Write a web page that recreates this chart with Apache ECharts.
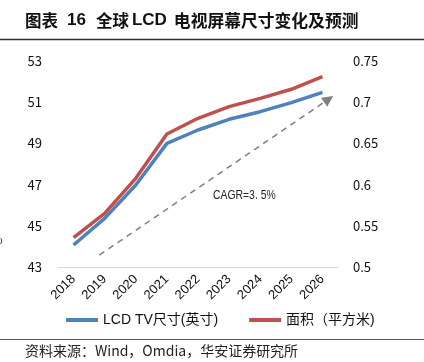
<!DOCTYPE html>
<html><head><meta charset="utf-8">
<script src="https://cdn.jsdelivr.net/npm/echarts@6/dist/echarts.min.js"></script>
<style>html,body{margin:0;padding:0;background:#fff}#c{width:424px;height:362px}</style>
</head><body><div id="c"></div>
<script>
var years = ['2018','2019','2020','2021','2022','2023','2024','2025','2026'];
var sizeInch = [44.07, 45.36, 46.98, 49.0, 49.65, 50.17, 50.54, 50.98, 51.48];
var areaM2 = [0.5356, 0.565, 0.6076, 0.6614, 0.6805, 0.6946, 0.7047, 0.7157, 0.731];
var leftTicks = [43, 45, 47, 49, 51, 53];
var rightTicks = [0.5, 0.55, 0.6, 0.65, 0.7, 0.75];
var trendArrow = [[0.83, 43.58], [8.2, 51.15]];
var cagrText = 'CAGR=3. 5%';

var chart = echarts.init(document.getElementById('c'));
var F = '"Noto Sans CJK SC","Liberation Sans",sans-serif';
var FL = '"Liberation Sans","Noto Sans CJK SC",sans-serif';
chart.setOption({
  animation: false,
  textStyle: {fontFamily: F},
  legend: {
    bottom: 30, left: 61, itemWidth: 32, itemHeight: 4, itemGap: 31,
    icon: 'rect',
    textStyle: {fontSize: 14, color: '#111', fontFamily: FL},
    data: ['LCD TV尺寸(英寸)', '面积（平方米)']
  },
  grid: {left: 58, right: 86, top: 61, bottom: 95},
  xAxis: [{
    type: 'category', data: years, boundaryGap: true,
    axisLine: {lineStyle: {color: '#d9d9d9'}}, axisTick: {show: false},
    axisLabel: {rotate: 45, fontSize: 13, color: '#111', margin: 10, interval: 0, fontFamily: FL}
  }, {
    type: 'value', min: -0.5, max: 8.5, show: false
  }],
  yAxis: [{
    type: 'value', min: 43, max: 53, interval: 2,
    splitLine: {show: false}, axisLine: {show: false}, axisTick: {show: false},
    axisLabel: {fontSize: 13, color: '#111', margin: 16}
  }, {
    type: 'value', min: 0.5, max: 0.75, interval: 0.05,
    splitLine: {show: false}, axisLine: {show: false}, axisTick: {show: false},
    axisLabel: {fontSize: 13, color: '#111', margin: 15,
      formatter: function (v) { return String(+v.toFixed(2)); }}
  }],
  series: [{
    name: 'LCD TV尺寸(英寸)', type: 'line', data: sizeInch, yAxisIndex: 0,
    symbol: 'none', lineStyle: {color: '#4f81bd', width: 3.5}, itemStyle: {color: '#4f81bd'}
  }, {
    name: '面积（平方米)', type: 'line', data: areaM2, yAxisIndex: 1,
    symbol: 'none', lineStyle: {color: '#c0504d', width: 3.5}, itemStyle: {color: '#c0504d'}
  }, {
    name: 'trend', type: 'line', xAxisIndex: 1, yAxisIndex: 0, data: [],
    markLine: {
      silent: true, symbol: ['none', 'triangle'], symbolSize: [11, 11],
      lineStyle: {type: [6, 5], color: '#7f7f7f', width: 1.5},
      label: {show: false},
      data: [[{coord: trendArrow[0]}, {coord: trendArrow[1]}]]
    }
  }],
  graphic: [
    {type: 'text', left: 25, top: 12, style: {
      text: '{a|图表}{b|16}{g|全球}{l|LCD}{c|电视屏幕尺寸变化及预测}',
      rich: {
        a: {fontSize: 16.5, fontWeight: 'bold', fill: '#111', fontFamily: '"Noto Sans CJK SC"', padding: [0, 9, 0, 0]},
        g: {fontSize: 16.5, fontWeight: 'bold', fill: '#111', fontFamily: '"Noto Sans CJK SC"', padding: [0, 3, 0, 0]},
        b: {fontSize: 17, fontWeight: 'bold', fill: '#111', fontFamily: '"Liberation Sans"', padding: [0, 10, 0, 0]},
        l: {fontSize: 17, fontWeight: 'bold', fill: '#111', fontFamily: '"Liberation Sans"', padding: [0, 7, 0, 0]},
        c: {fontSize: 16.8, fontWeight: 'bold', fill: '#111', fontFamily: '"Noto Sans CJK SC"'}
      }
    }},
    {type: 'line', shape: {x1: 0, y1: 39.5, x2: 424, y2: 39.5}, style: {stroke: '#333', lineWidth: 1.5}},
    {type: 'line', shape: {x1: 0, y1: 339.5, x2: 424, y2: 339.5}, style: {stroke: '#555', lineWidth: 1}},
    {type: 'text', left: 25, top: 344, style: {text: '资料来源：Wind，Omdia，华安证券研究所', fontSize: 14, fill: '#222', fontFamily: F}},
    {type: 'text', x: 213, y: 189, scaleX: 0.8, style: {text: cagrText, fontSize: 13, fill: '#222', fontFamily: '"Liberation Sans",sans-serif'}},
    {type: 'text', left: -9, top: 234, style: {text: '%', fontSize: 13, fill: '#333'}}
  ]
});
</script></body></html>
